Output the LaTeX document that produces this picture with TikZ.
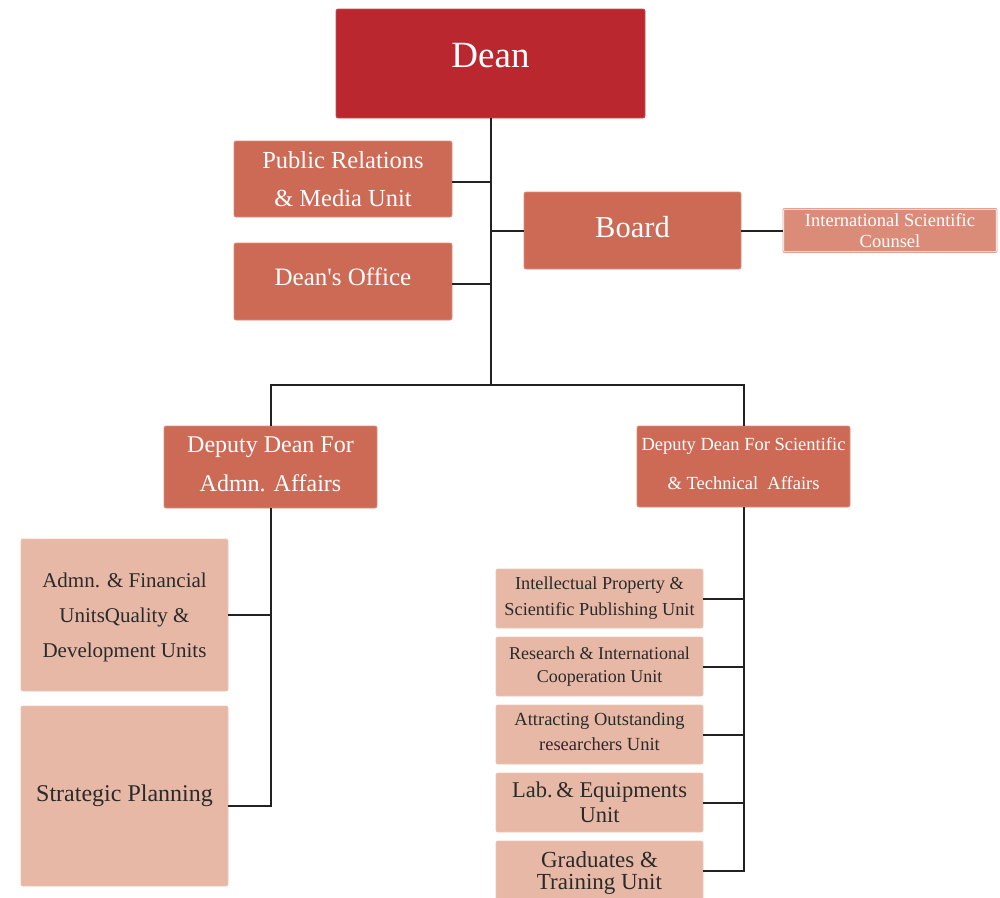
\documentclass[tikz,border=0pt]{standalone}
\usepackage{fontspec}
\setmainfont{Liberation Serif}
\usetikzlibrary{calc}
\definecolor{deanred}{HTML}{BA272E}
\definecolor{unitbrick}{HTML}{CC6A55}
\definecolor{counselpink}{HTML}{DA8C78}
\definecolor{sectionpeach}{HTML}{E7B8A6}
\definecolor{linkgray}{HTML}{222222}
\definecolor{inktext}{HTML}{2A2A2A}
\tikzset{
  orgbox/.style={rectangle, rounded corners=2pt, align=center, inner sep=0pt, line width=0.8pt},
  topbox/.style={orgbox, fill=deanred, draw=deanred!80!white, text=white},
  midbox/.style={orgbox, fill=unitbrick, draw=unitbrick!75!white, text=white},
  counselbox/.style={orgbox, rounded corners=1pt, fill=counselpink, draw=white, double=counselpink!80!white, double distance=0.8pt, text=white},
  lowbox/.style={orgbox, fill=sectionpeach, draw=sectionpeach!85!white, text=inktext},
  link/.style={draw=linkgray, line width=2pt}
}
\begin{document}
\begin{tikzpicture}[x=1pt, y=-1pt]
\useasboundingbox (0,0) rectangle (1000,897);

% top level
\node[topbox, minimum width=309pt, minimum height=109pt, text depth=16pt, font=\fontsize{37}{40}\selectfont] (dean) at (490.5,63.5) {Dean};

% units attached to the dean
\node[midbox, minimum width=218pt, minimum height=76pt, font=\fontsize{24.5}{38}\selectfont] (pr) at (343,179) {Public Relations\\ \& Media Unit};
\node[midbox, minimum width=218pt, minimum height=77pt, text depth=10pt, font=\fontsize{25}{30}\selectfont] (office) at (343,281.5) {Dean\textquotesingle s Office};
\node[midbox, minimum width=217pt, minimum height=77pt, text depth=8pt, font=\fontsize{30.5}{34}\selectfont] (board) at (632.5,230.5) {Board};
\node[counselbox, minimum width=214pt, minimum height=44pt, font=\fontsize{18.5}{21}\selectfont] (intl) at (890,230.5) {International Scientific\\ Counsel};

% deputies
\node[midbox, minimum width=213pt, minimum height=82pt, text depth=6pt, font=\fontsize{24}{39}\selectfont] (dadm) at (270.5,467) {Deputy Dean For\\ Admn. Affairs};
\node[midbox, minimum width=213pt, minimum height=81pt, text depth=6pt, font=\fontsize{18.5}{39}\selectfont] (dsci) at (743.5,466.5) {Deputy Dean For Scientific\\ \& Technical\ \ Affairs};

% administrative branch
\node[lowbox, minimum width=207pt, minimum height=152pt, text depth=-1.4pt, font=\fontsize{21}{35}\selectfont] (afin) at (124.5,615) {Admn. \& Financial\\ UnitsQuality \&\\ Development Units};
\node[lowbox, minimum width=207pt, minimum height=180pt, font=\fontsize{24}{30}\selectfont] (plan) at (124.5,796) {Strategic Planning};

% scientific branch
\node[lowbox, minimum width=207pt, minimum height=59pt, font=\fontsize{18.3}{26}\selectfont] (ipu) at (599.5,598.5) {Intellectual Property \&\\ Scientific Publishing Unit};
\node[lowbox, minimum width=207pt, minimum height=59pt, font=\fontsize{18}{23}\selectfont] (rico) at (599.5,666.5) {Research \& International\\ Cooperation Unit};
\node[lowbox, minimum width=207pt, minimum height=59pt, text depth=6pt, font=\fontsize{18.5}{25}\selectfont] (attr) at (599.5,734.5) {Attracting Outstanding\\ researchers Unit};
\node[lowbox, minimum width=207pt, minimum height=59pt, font=\fontsize{22.5}{25}\selectfont] (lab) at (599.5,802.5) {Lab.\,\& Equipments\\ Unit};
\node[lowbox, minimum width=207pt, minimum height=60pt, text depth=-1.2pt, font=\fontsize{23}{22}\selectfont] (grad) at (599.5,871) {Graduates \&\\ Training Unit};

% junction of the two deputies
\coordinate (split) at (dean.south |- 0,385);

% links from the dean
\draw[link] (dean.south) -- (split);
\draw[link] ([yshift=-3pt]pr.east) -- ([yshift=-3pt]pr.east -| dean.south);
\draw[link] ([yshift=-2pt]office.east) -- ([yshift=-2pt]office.east -| dean.south);
\draw[link] (board.west -| dean.south) -- (board.west);
\draw[link] (board.east) -- (intl.west);
\draw[link] (dadm.north) -- (dadm.north |- split) -- (dsci.north |- split) -- (dsci.north);

% administrative branch links
\draw[link] (dadm.south) |- ([yshift=-10pt]plan.east);
\draw[link] (afin.east) -- (afin.east -| dadm.south);

% scientific branch links
\draw[link] (dsci.south) |- (grad.east);
\foreach \u in {ipu,rico,attr,lab}
  \draw[link] (\u.east) -- (\u.east -| dsci.south);
\end{tikzpicture}
\end{document}
